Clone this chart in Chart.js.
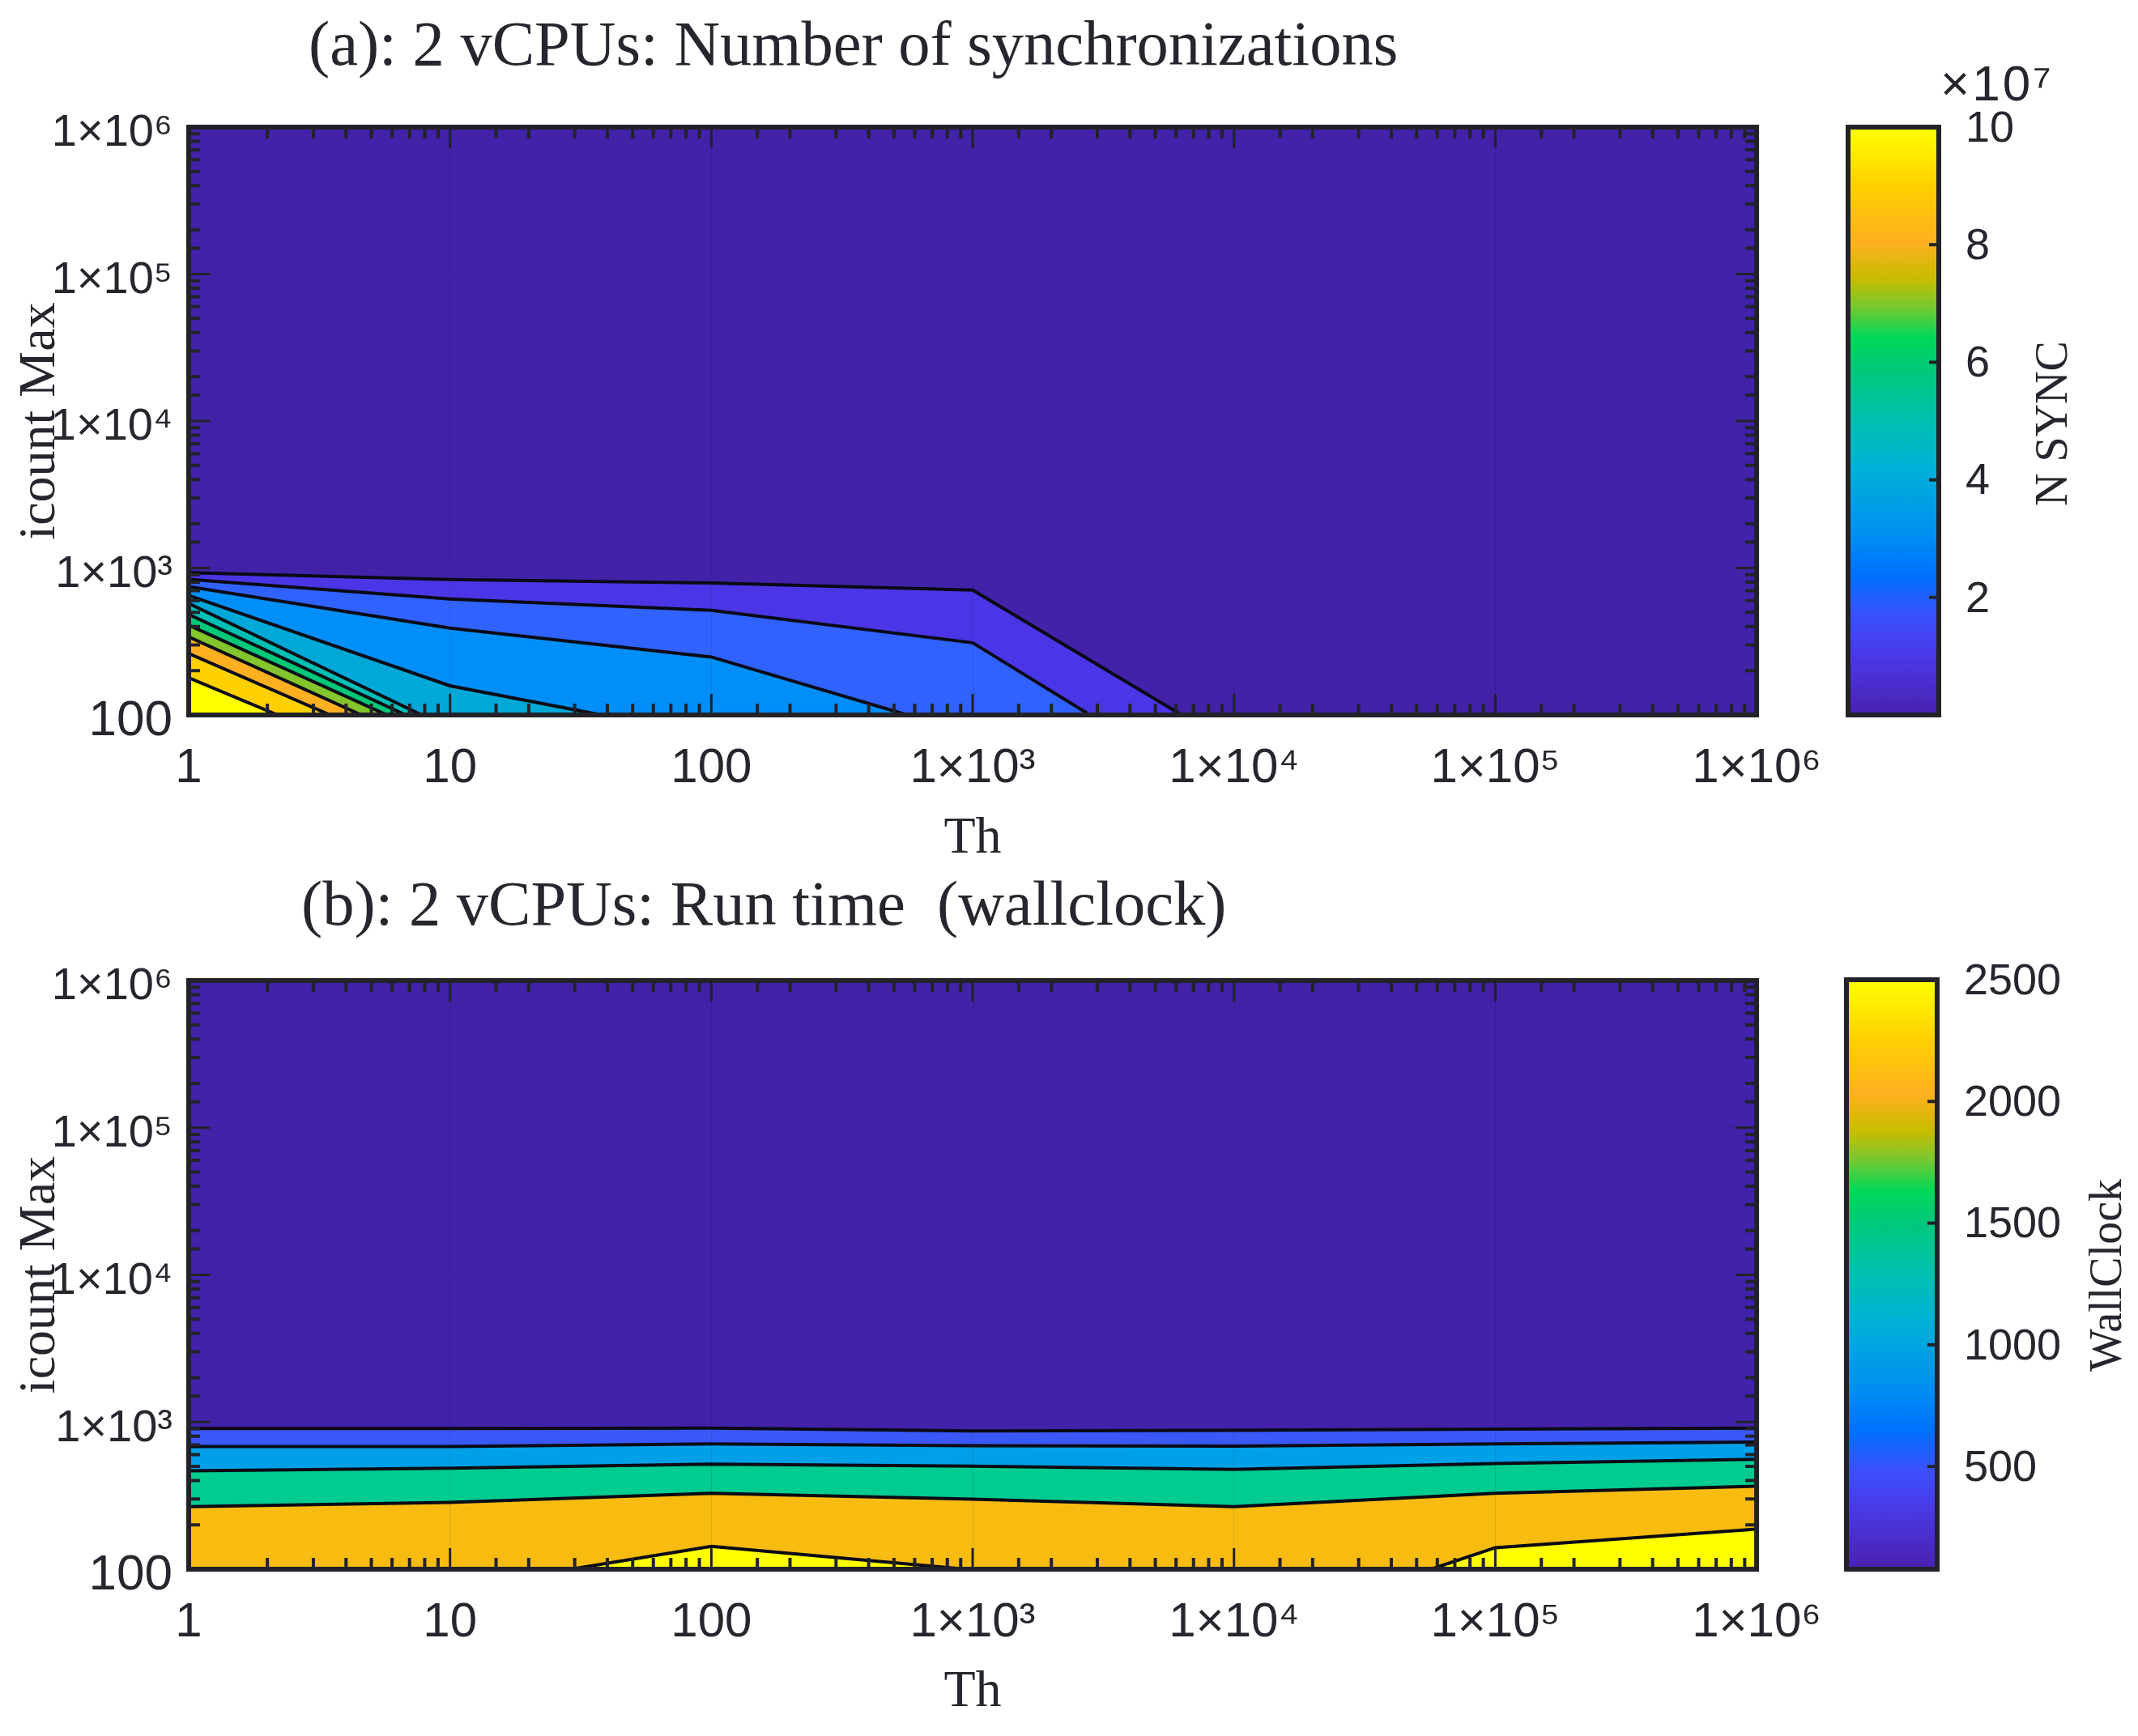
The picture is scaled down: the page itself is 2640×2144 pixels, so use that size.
<!DOCTYPE html>
<html>
<head>
<meta charset="utf-8">
<title>vCPU contour charts</title>
<script src="https://cdn.jsdelivr.net/npm/chart.js@4/dist/chart.umd.js"></script>
<style>
  html, body { margin: 0; padding: 0; background: #fff; width: 2640px; height: 2144px; overflow: hidden; }
  canvas { position: absolute; display: block; }
  .label { position: absolute; color: #26262e; white-space: pre; line-height: 1; }
  .serif { font-family: "Liberation Serif", serif; }
  .sans { font-family: "Liberation Sans", sans-serif; }
  .vert { transform: translate(-50%, -50%) rotate(-90deg); }
</style>
</head>
<body>
<div class="label serif" style="left:381px;top:15px;font-size:78.5px">(a): 2 vCPUs: Number of synchronizations</div>
<div class="label serif" style="left:372px;top:1077px;font-size:78.5px">(b): 2 vCPUs: Run time  (wallclock)</div>
<div class="label sans" style="left:2396px;top:72px;font-size:62px;letter-spacing:3px">×10⁷</div>
<div class="label serif vert" style="left:2533px;top:523px;font-size:56px">N SYNC</div>
<div class="label serif vert" style="left:2600px;top:1575px;font-size:56px">WallClock</div>

<canvas id="syncChart" width="2279" height="1075" style="left:0;top:0"></canvas>
<canvas id="syncBar" width="400" height="1000" style="left:2240px;top:0"></canvas>
<canvas id="timeChart" width="2279" height="1029" style="left:0;top:1100px"></canvas>
<canvas id="timeBar" width="400" height="900" style="left:2240px;top:1100px"></canvas>

<script>
// axis labels
const thTicks = [1, 10, 100, 1000, 10000, 100000, 1000000];
const thLabels = ['1', '10', '100', '1×10³', '1×10⁴', '1×10⁵', '1×10⁶'];
const icountTicks = [100, 1000, 10000, 100000, 1000000];
const icountLabels = ['100', '1×10³', '1×10⁴', '1×10⁵', '1×10⁶'];

// panel (a) contour lines, [Th, icount Max]
const syncLine1 = [[1, 931], [10, 834], [100, 792], [1000, 707], [6310, 100]];
const syncLine2 = [[1, 838], [10, 615], [100, 515], [1000, 310], [2812, 100]];
const syncLine3 = [[1, 747], [10, 390], [100, 248], [562, 100]];
const syncLine4 = [[1, 650], [10, 158], [38, 100]];
const syncLine5 = [[1, 573], [7.8, 100]];
const syncLine6 = [[1, 483], [6.77, 100]];
const syncLine7 = [[1, 408], [5.74, 100]];
const syncLine8 = [[1, 340], [4.58, 100]];
const syncLine9 = [[1, 262], [3.48, 100]];
const syncLine10 = [[1, 179], [2.19, 100]];

// panel (b) contour lines, [Th, icount Max]
const timeLine1 = [[1, 904], [10, 904], [100, 908], [1000, 871], [10000, 877], [100000, 896], [1000000, 908]];
const timeLine2 = [[1, 681], [10, 681], [100, 711], [1000, 690], [10000, 687], [100000, 711], [1000000, 732]];
const timeLine3 = [[1, 466], [10, 486], [100, 518], [1000, 501], [10000, 476], [100000, 522], [1000000, 558]];
const timeLine4 = [[1, 266], [10, 284], [100, 328], [1000, 299], [10000, 266], [100000, 328], [1000000, 366]];
const timeLine5 = [[29, 100], [100, 143], [940, 100], [56800, 100], [100000, 140], [1000000, 187]];

const syncBarRange = [0, 10];
const syncBarTicks = [2, 4, 6, 8, 10];
const timeBarRange = [78, 2500];
const timeBarTicks = [500, 1000, 1500, 2000, 2500];

// colours
const baseColor = '#4122a8';
const syncColors = ['#4a36e6', '#2f62ff', '#008ff8', '#00a8d8', '#00bfb4', '#00c878', '#84c42c', '#ffb020', '#ffd000', '#ffff00'];
const timeColors = ['#3a58f8', '#00a0e8', '#00cc90', '#f8bc10', '#ffff00'];
const barStops = [0, 0.104, 0.17, 0.236, 0.31, 0.417, 0.5, 0.59, 0.642, 0.695, 0.743, 0.806, 0.9, 1];
const barColors = ['#4a20b0', '#4a3ae8', '#3a50ff', '#0070ff', '#0090f0', '#00b0d8', '#00c0b0', '#00c878', '#00d858', '#78c830', '#c8bc00', '#ffb020', '#ffd000', '#ffff00'];

const inkColor = '#26262e';
const sansFamily = '"Liberation Sans", sans-serif';
const tickFont = { family: sansFamily, size: 60 };
const titleFont = { family: '"Liberation Serif", serif', size: 64 };

function lookupLabel(value, values, labels) {
  const i = values.findIndex((v) => Math.abs(v - value) < v * 1e-6);
  return i >= 0 ? labels[i] : '';
}

// the axes box and the inward tick marks of the MATLAB look
const boxPlugin = {
  id: 'boxPlugin',
  beforeDatasetsDraw(chart) {
    const { ctx, chartArea: a } = chart;
    if (chart.config.type !== 'line') return;
    ctx.save();
    ctx.fillStyle = baseColor;
    ctx.fillRect(a.left, a.top, a.width, a.height);
    ctx.restore();
  },
  afterDatasetsDraw(chart) {
    const { ctx, chartArea: a, scales } = chart;
    ctx.save();
    ctx.strokeStyle = '#222228';
    if (chart.config.type === 'line') {
      scales.x.ticks.forEach((t) => {
        const px = scales.x.getPixelForValue(t.value);
        const len = t.major ? 26 : 14;
        ctx.lineWidth = t.major ? 3 : 4;
        ctx.beginPath();
        ctx.moveTo(px, a.bottom); ctx.lineTo(px, a.bottom - len);
        ctx.moveTo(px, a.top); ctx.lineTo(px, a.top + len);
        ctx.stroke();
      });
      scales.y.ticks.forEach((t) => {
        const py = scales.y.getPixelForValue(t.value);
        const len = t.major ? 26 : 14;
        ctx.lineWidth = t.major ? 3 : 4;
        ctx.beginPath();
        ctx.moveTo(a.left, py); ctx.lineTo(a.left + len, py);
        ctx.moveTo(a.right, py); ctx.lineTo(a.right - len, py);
        ctx.stroke();
      });
    } else {
      ctx.lineWidth = 4;
      scales.y.ticks.forEach((t) => {
        const py = scales.y.getPixelForValue(t.value);
        ctx.beginPath();
        ctx.moveTo(a.right, py); ctx.lineTo(a.right - 12, py);
        ctx.stroke();
      });
    }
    ctx.lineWidth = 6;
    ctx.strokeRect(a.left, a.top, a.width, a.height);
    ctx.restore();
  },
};

function contourChart(id, lines, colors, box) {
  const datasets = lines.map((line, i) => ({
    data: line.map(([x, y]) => ({ x, y })),
    borderColor: '#0a0a14',
    borderWidth: 4,
    backgroundColor: colors[i],
    fill: 'start',
    pointRadius: 0,
    tension: 0,
    order: lines.length - i,
  }));

  return new Chart(document.getElementById(id), {
    type: 'line',
    data: { datasets },
    plugins: [boxPlugin],
    options: {
      responsive: false,
      animation: false,
      devicePixelRatio: 1,
      layout: { padding: { top: box.top, right: box.right, left: 0, bottom: 0 } },
      plugins: { legend: { display: false }, tooltip: { enabled: false } },
      scales: {
        x: {
          type: 'logarithmic',
          min: 1,
          max: 1000000,
          afterFit(scale) { scale.height = box.bottom; },
          grid: {
            drawTicks: false,
            z: 1,
            color: (c) => (c.tick && c.tick.major ? 'rgba(20,20,60,0.12)' : 'rgba(0,0,0,0)'),
          },
          border: { display: false },
          ticks: {
            autoSkip: false,
            maxRotation: 0,
            padding: 30,
            color: inkColor,
            font: tickFont,
            callback: (v) => lookupLabel(v, thTicks, thLabels),
          },
          title: { display: true, text: 'Th', color: inkColor, font: titleFont, padding: { top: 18, bottom: 0 } },
        },
        y: {
          type: 'logarithmic',
          min: 100,
          max: 1000000,
          afterFit(scale) { scale.width = box.left; },
          grid: {
            drawTicks: false,
            z: 1,
            color: (c) => (c.tick && c.tick.major ? 'rgba(20,20,60,0.08)' : 'rgba(0,0,0,0)'),
          },
          border: { display: false },
          ticks: {
            autoSkip: false,
            padding: 20,
            labelOffset: 8,
            color: inkColor,
            // the ×10 labels are narrower in the original
            font: (c) => ({ family: sansFamily, size: c.tick && c.tick.value === 100 ? 62 : 56 }),
            callback: (v) => lookupLabel(v, icountTicks, icountLabels),
          },
          title: { display: true, text: 'icount Max', color: inkColor, font: titleFont, padding: { top: 12, bottom: 0 } },
        },
      },
    },
  });
}

function barGradient(context) {
  const { chart } = context;
  const a = chart.chartArea;
  if (!a) return barColors[0];
  const g = chart.ctx.createLinearGradient(0, a.bottom, 0, a.top);
  barStops.forEach((s, i) => g.addColorStop(s, barColors[i]));
  return g;
}

function colorBar(id, range, tickValues, box) {
  return new Chart(document.getElementById(id), {
    type: 'bar',
    data: {
      labels: [''],
      datasets: [{
        data: [range],
        barPercentage: 1,
        categoryPercentage: 1,
        backgroundColor: barGradient,
      }],
    },
    plugins: [boxPlugin],
    options: {
      responsive: false,
      animation: false,
      devicePixelRatio: 1,
      layout: { padding: { top: box.top, left: box.left, bottom: box.bottom, right: 0 } },
      plugins: { legend: { display: false }, tooltip: { enabled: false } },
      scales: {
        x: { display: false },
        y: {
          position: 'right',
          min: range[0],
          max: range[1],
          afterBuildTicks(scale) { scale.ticks = tickValues.map((value) => ({ value })); },
          afterFit(scale) { scale.width = box.right; },
          grid: { display: false },
          border: { display: false },
          ticks: {
            padding: 25,
            labelOffset: 3,
            color: inkColor,
            font: { family: sansFamily, size: 54 },
            callback: (v) => String(v),
          },
        },
      },
    },
  });
}

contourChart('syncChart',
  [syncLine1, syncLine2, syncLine3, syncLine4, syncLine5, syncLine6, syncLine7, syncLine8, syncLine9, syncLine10],
  syncColors,
  { left: 233, top: 157, right: 89, bottom: 1075 - 883 });
contourChart('timeChart',
  [timeLine1, timeLine2, timeLine3, timeLine4, timeLine5],
  timeColors,
  { left: 233, top: 1211 - 1100, right: 89, bottom: 1029 - 838 });
colorBar('syncBar', syncBarRange, syncBarTicks, { left: 42, top: 157, bottom: 1000 - 883, right: 2640 - 2394 });
colorBar('timeBar', timeBarRange, timeBarTicks, { left: 40, top: 1210 - 1100, bottom: 900 - 838, right: 2640 - 2392 });
</script>
</body>
</html>
